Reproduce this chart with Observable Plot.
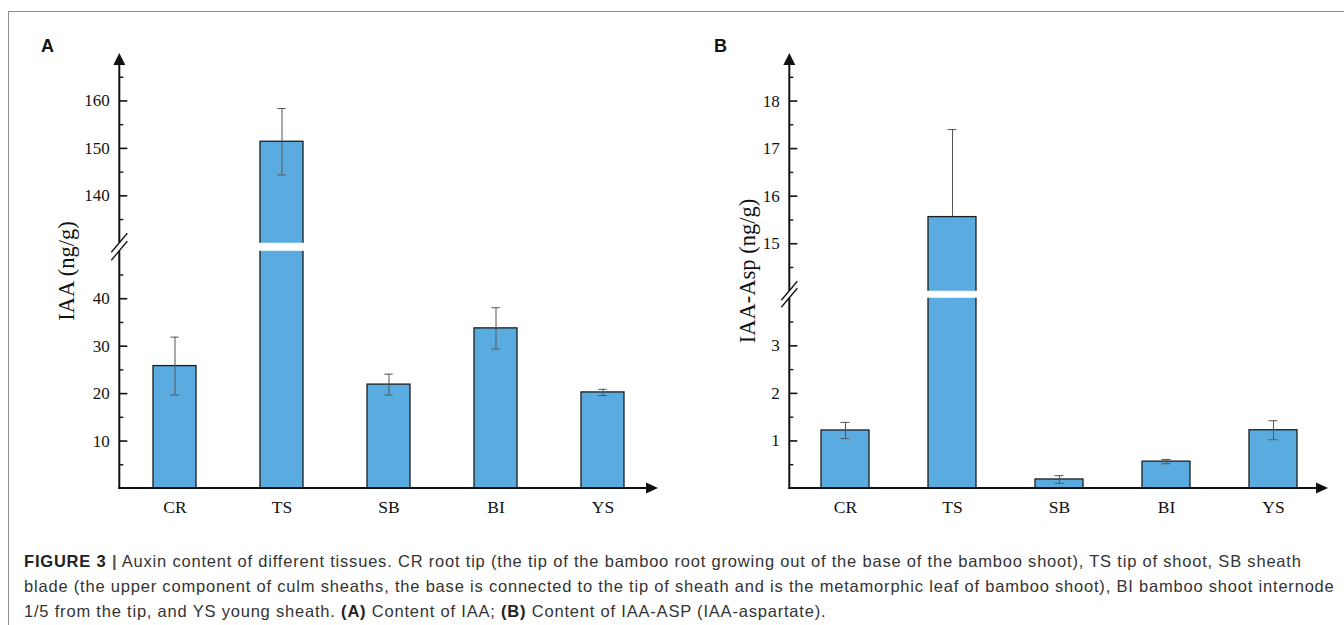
<!DOCTYPE html>
<html><head><meta charset="utf-8">
<script src="https://cdn.jsdelivr.net/npm/d3@7"></script>
<script src="https://cdn.jsdelivr.net/npm/@observablehq/plot@0.6"></script>
<style>
html,body{margin:0;padding:0;background:#fff;}
#page{position:relative;width:1344px;height:625px;overflow:hidden;background:#fff;}
#frame{position:absolute;left:8px;top:11px;width:1400px;height:700px;border-top:1px solid #8e8e8e;border-left:1px solid #8e8e8e;}
.panel{position:absolute;top:0;}
.plabel{position:absolute;font-family:"Liberation Sans",Arial,sans-serif;font-weight:bold;font-size:18px;line-height:1;color:#111;}
#caption{position:absolute;left:24px;top:549px;font-family:"Liberation Sans",Arial,sans-serif;font-size:16.5px;letter-spacing:0.8px;line-height:25px;color:#333;white-space:nowrap;}
#caption b{color:#222;}
</style></head>
<body><div id="page">
<div id="panelA" class="panel" style="left:0px"></div>
<div id="panelB" class="panel" style="left:672px"></div>
<div id="frame"></div>
<div class="plabel" style="left:41px;top:37px">A</div>
<div class="plabel" style="left:714px;top:37px">B</div>
<div id="caption"><b>FIGURE 3</b> <b style="color:#555">|</b> Auxin content of different tissues. CR root tip (the tip of the bamboo root growing out of the base of the bamboo shoot), TS tip of shoot, SB sheath<br>blade (the upper component of culm sheaths, the base is connected to the tip of sheath and is the metamorphic leaf of bamboo shoot), BI bamboo shoot internode<br>1/5 from the tip, and YS young sheath. <b>(A)</b> Content of IAA; <b>(B)</b> Content of IAA-ASP (IAA-aspartate).</div>
</div>
<script>
// ---- data ----
const categories = ["CR", "TS", "SB", "BI", "YS"];
const iaaMean = [25.8, 151.4, 21.9, 33.75, 20.25];
const iaaSD   = [6.1, 7.0, 2.2, 4.35, 0.65];
const aspMean = [1.22, 15.56, 0.19, 0.565, 1.225];
const aspSD   = [0.17, 1.84, 0.08, 0.045, 0.2];
const iaaDomain = [0, 50, 130, 170];   // broken axis: 0–50 // 130–170
const aspDomain = [0, 4, 14, 19];      // broken axis: 0–4 // 14–19
const iaaTicks = [10, 20, 30, 40, 140, 150, 160];
const iaaMinor = [5, 15, 25, 35, 45, 135, 145, 155, 165];
const aspTicks = [1, 2, 3, 15, 16, 17, 18];
const aspMinor = [0.5, 1.5, 2.5, 3.5, 14.5, 15.5, 16.5, 17.5, 18.5];
const iaaLabel = "IAA (ng/g)";
const aspLabel = "IAA-Asp (ng/g)";

function brokenRange(bottom, top, dom, gap) {
  const units = (dom[1] - dom[0]) + (dom[3] - dom[2]);
  const k = (bottom - top - gap) / units;
  const yLo = bottom - k * (dom[1] - dom[0]);
  return [bottom, yLo, yLo - gap, top];
}

function decor(dom) {
  return (index, scales, values, dims) => {
    const y = scales.y;
    const x0 = dims.marginLeft, x1 = dims.width - dims.marginRight;
    const yb = y(dom[0]), yLo = y(dom[1]), yHi = y(dom[2]), yt = y(dom[3]);
    const g = d3.create("svg:g").attr("stroke", "#111").attr("fill", "none");
    g.append("line").attr("x1", x0).attr("x2", x0).attr("y1", yb + 1).attr("y2", yLo).attr("stroke-width", 2);
    g.append("line").attr("x1", x0).attr("x2", x0).attr("y1", yHi).attr("y2", yt + 10).attr("stroke-width", 2);
    g.append("path").attr("d", `M${x0},${yt}l6,12h-12z`).attr("fill", "#111").attr("stroke", "none");
    g.append("line").attr("x1", x0 - 1).attr("x2", x1 - 10).attr("y1", yb).attr("y2", yb).attr("stroke-width", 2);
    g.append("path").attr("d", `M${x1},${yb}l-12,-5.5v11z`).attr("fill", "#111").attr("stroke", "none");
    for (const yy of [yLo, yHi]) {
      g.append("line").attr("x1", x0 - 8).attr("y1", yy + 9.5).attr("x2", x0 + 8).attr("y2", yy - 9.5).attr("stroke-width", 1.3);
    }
    return g.node();
  };
}

function panel({means, sds, dom, gap, ticks, minor, label, marginLeft, marginRight, paddingInner, paddingOuter, capInset, labelDx}) {
  const data = categories.map((c, i) => ({cat: c, value: means[i], sd: sds[i]}));
  const inGap = v => v > dom[1] && v < dom[2];
  const W = 672, H = 530, mt = 53, mb = 42;
  const frameW = W - marginLeft - marginRight;
  return Plot.plot({
    width: W, height: H,
    marginLeft, marginRight, marginTop: mt, marginBottom: mb,
    style: {background: "transparent", fontFamily: "'Liberation Serif', 'Times New Roman', serif", color: "#111", overflow: "visible"},
    x: {domain: categories, paddingInner, paddingOuter, align: 0.5, axis: null},
    y: {type: "linear", domain: dom, range: brokenRange(H - mb, mt, dom, gap), axis: null},
    marks: [
      Plot.barY(data, {x: "cat", y: "value", fill: "#5aace0", stroke: "#1c1c1c", strokeWidth: 1.3}),
      Plot.ruleX(data, {x: "cat", y1: d => inGap(d.value - d.sd) ? d.value : d.value - d.sd, y2: d => d.value + d.sd, stroke: "#555", strokeWidth: 1}),
      Plot.tickY(data, {x: "cat", y: d => d.value + d.sd, inset: capInset, stroke: "#555", strokeWidth: 1}),
      Plot.tickY(data.filter(d => !inGap(d.value - d.sd)), {x: "cat", y: d => d.value - d.sd, inset: capInset, stroke: "#555", strokeWidth: 1}),
      Plot.barY(data.filter(d => d.value > dom[2]), {x: "cat", y1: dom[1], y2: dom[2], fill: "white", insetLeft: -2, insetRight: -2}),
      Plot.tickY(ticks, {y: d => d, insetLeft: 0, insetRight: frameW - 8, stroke: "#111", strokeWidth: 1.6}),
      Plot.tickY(minor, {y: d => d, insetLeft: 0, insetRight: frameW - 4, stroke: "#111", strokeWidth: 1.4}),
      Plot.axisY(ticks, {anchor: "left", tickSize: 0, tickPadding: 10, fontSize: 17, tickFormat: d => String(d), label: null, fill: "#111"}),
      Plot.axisX({anchor: "bottom", tickSize: 0, tickPadding: 12.5, fontSize: 17.5, label: null, fill: "#111"}),
      Plot.text([label], {text: d => d, frameAnchor: "left", textAnchor: "middle", lineAnchor: "middle", rotate: -90, dx: labelDx, fontSize: 22.5, fill: "#111"}),
      decor(dom)
    ]
  });
}

document.getElementById("panelA").append(panel({
  means: iaaMean, sds: iaaSD, dom: iaaDomain, gap: 8, ticks: iaaTicks, minor: iaaMinor, label: iaaLabel,
  marginLeft: 119.3, marginRight: 14, paddingInner: 0.5965, paddingOuter: 0.298, capInset: 17.3, labelDx: -53
}));
document.getElementById("panelB").append(panel({
  means: aspMean, sds: aspSD, dom: aspDomain, gap: 7, ticks: aspTicks, minor: aspMinor, label: aspLabel,
  marginLeft: 117.3, marginRight: 16, paddingInner: 0.554, paddingOuter: 0.28, capInset: 19.5, labelDx: -42
}));
</script>
</body></html>
